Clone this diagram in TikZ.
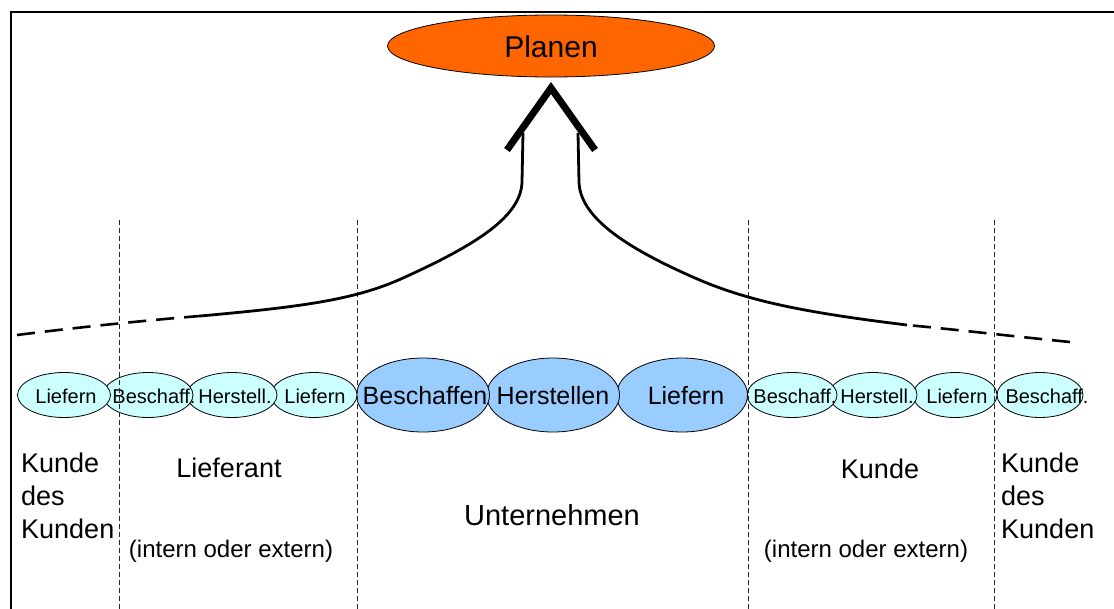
\documentclass[tikz,border=0pt]{standalone}
\usepackage{fontspec}
\setmainfont{Liberation Sans}
\usetikzlibrary{shapes.geometric}
\definecolor{orangefill}{HTML}{FF6600}
\definecolor{cyanfill}{HTML}{CCFFFF}
\definecolor{bluefill}{HTML}{99CCFF}
\begin{document}
\begin{tikzpicture}[x=1pt,y=-1pt,
  smallproc/.style={ellipse, draw=black, line width=0.8pt, fill=cyanfill,
    minimum width=#1, minimum height=45pt, inner sep=0pt},
  bigproc/.style={ellipse, draw=black, line width=0.8pt, fill=bluefill,
    minimum width=#1, minimum height=74pt, inner sep=0pt},
  smalltxt/.style={inner sep=0pt, font=\fontsize{20}{24}\selectfont},
  bigtxt/.style={inner sep=0pt, font=\fontsize{25}{30}\selectfont},
  zonetxt/.style={inner sep=0pt, font=\fontsize{27}{33}\selectfont},
  notetxt/.style={inner sep=0pt, font=\fontsize{24}{29}\selectfont},
  divider/.style={line width=0.8pt, dash pattern=on 5pt off 3pt, black!85},
  flow/.style={line width=2.8pt, line cap=butt},
  flowfade/.style={line width=2.6pt, dash pattern=on 18pt off 10pt},
]
\useasboundingbox (0,0) rectangle (1114,608);

% outer frame (runs off the right and bottom edges)
\draw[line width=2pt] (11,620) -- (11,12) -- (1130,12);

% planning node
\node[ellipse, draw=black, line width=0.8pt, fill=orangefill,
      minimum width=327pt, minimum height=62pt, inner sep=0pt] (plan) at (551,46) {};
\node[inner sep=0pt, font=\fontsize{30}{36}\selectfont] (plantxt) at (551,47) {Planen};

% process chain: right to left so the left ellipses lie on top
\node[smallproc=86pt] (rb2) at (1040,395) {};
\node[smallproc=84pt] (rl)  at (955,395) {};
\node[smallproc=88pt] (rh)  at (873,395) {};
\node[smallproc=90pt] (rb)  at (792,395) {};
\node[bigproc=131pt] (ul) at (682,395) {};
\node[bigproc=133pt] (uh) at (553,395) {};
\node[bigproc=133pt] (ub) at (423,395) {};
\node[smallproc=86pt] (ll2) at (314,395) {};
\node[smallproc=90pt] (lh)  at (232,395) {};
\node[smallproc=90pt] (lb)  at (148,395) {};
\node[smallproc=93pt] (ll1) at (64,395) {};

% texts of the chain
\node[smalltxt] (ll1t) at (66,396) {Liefern};
\node[smalltxt] (lbt)  at (154,396) {Beschaff.};
\node[smalltxt] (lht)  at (235,396) {Herstell.};
\node[smalltxt] (ll2t) at (315,396) {Liefern};
\node[bigtxt] (ubt) at (425,396) {Beschaffen};
\node[bigtxt] (uht) at (553,396) {Herstellen};
\node[bigtxt] (ult) at (686,396) {Liefern};
\node[smalltxt] (rbt)  at (795,396) {Beschaff.};
\node[smalltxt] (rht)  at (877,396) {Herstell.};
\node[smalltxt] (rlt)  at (957,396) {Liefern};
\node[smalltxt] (rb2t) at (1047,396) {Beschaff.};

% zone dividers
\foreach \xx/\nm in {119/da, 357/db, 748/dc, 994/dd} {
  \coordinate (\nm top) at (\xx,220);
  \coordinate (\nm bot) at (\xx,612);
  \draw[divider] (\nm top) -- (\nm bot);
}

% zone labels
\node[zonetxt, anchor=west, align=left] (kdkl) at (21,496) {Kunde\\des\\Kunden};
\node[zonetxt] (lief) at (229,468) {Lieferant};
\node[notetxt] (lieftxt) at (231,551) {(intern oder extern)};
\node[inner sep=0pt, font=\fontsize{29}{35}\selectfont] (unt) at (552,515) {Unternehmen};
\node[zonetxt] (kunde) at (880,469) {Kunde};
\node[notetxt] (kundetxt) at (866,551) {(intern oder extern)};
\node[zonetxt, anchor=west, align=left] (kdkr) at (1001,496) {Kunde\\des\\Kunden};

% information flow towards planning
\coordinate (lstart) at (17,335);
\coordinate (lsolid) at (200,316);
\coordinate (lmid) at (403,278);
\coordinate (lneck) at (522,182);
\coordinate (ltop) at (523,133);
\coordinate (rstart) at (1070,342);
\coordinate (rsolid) at (907,325);
\coordinate (rmid) at (695,278);
\coordinate (rneck) at (579,182);
\coordinate (rtop) at (578,133);

\draw[flowfade] (lstart) .. controls (80,327) and (150,320) .. (lsolid);
\draw[flow] (lsolid) .. controls (300,307) and (355,300) .. (lmid)
  .. controls (478,244) and (521,216) .. (lneck) -- (ltop);
\draw[flowfade] (rstart) .. controls (1010,336) and (960,330) .. (rsolid);
\draw[flow] (rsolid) .. controls (800,312) and (745,300) .. (rmid)
  .. controls (622,246) and (580,216) .. (rneck) -- (rtop);

% arrow head of the flow
\coordinate (apex) at (551,88);
\coordinate (chl) at (507,150);
\coordinate (chr) at (595,150);
\draw[line width=7pt, line join=miter] (chl) -- (apex) -- (chr);
\end{tikzpicture}
\end{document}
